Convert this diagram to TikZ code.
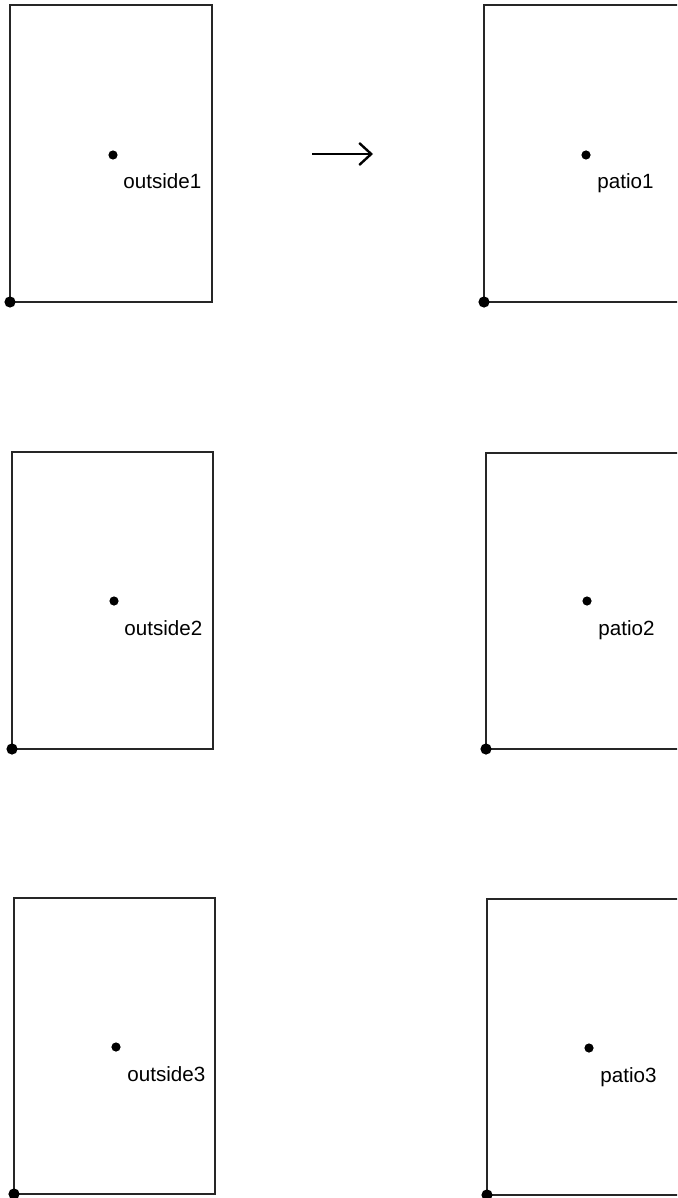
\documentclass[tikz,border=0pt]{standalone}
\usepackage{fontspec}
\setmainfont{Liberation Sans}
\usepackage{tikz}
\usetikzlibrary{arrows.meta, positioning}
\tikzset{
  room/.style={draw=black!85, line width=0.55pt},
  spot/.style={circle, fill=black, inner sep=0pt, minimum size=4.6pt},
  corner/.style={circle, fill=black, inner sep=0pt, minimum size=5.6pt},
  lbl/.style={font=\fontsize{10.3}{12}\selectfont, anchor=base west, inner sep=0pt}
}

\begin{document}
\begin{tikzpicture}[x=0.5pt, y=-0.5pt]
\useasboundingbox (0,0) rectangle (677,1198);
\clip (0,0) rectangle (677,1198);
% row 1
\draw[room] (10,5) rectangle (212,302);
\node[spot] (out1) at (113,155) {};
\node[lbl] (outlbl1) at ([shift={(10,34)}]out1) {outside1};
\node[corner] (outc1) at (10,302) {};
\draw[room] (484,5) rectangle (720,302);
\node[spot] (pat1) at (586,155) {};
\node[lbl] (patlbl1) at ([shift={(11,34)}]pat1) {patio1};
\node[corner] (patc1) at (484,302) {};
\coordinate (arrS) at (312,154);
\coordinate (arrE) at (373,154);
\draw[line width=1.2pt, -{Straight Barb[length=6pt, width=11pt, line width=1.2pt]}] (arrS) -- (arrE);
% row 2
\draw[room] (12,452) rectangle (213,749);
\node[spot] (out2) at (114,601) {};
\node[lbl] (outlbl2) at ([shift={(10,34)}]out2) {outside2};
\node[corner] (outc2) at (12,749) {};
\draw[room] (486,453) rectangle (720,749);
\node[spot] (pat2) at (587,601) {};
\node[lbl] (patlbl2) at ([shift={(11,34)}]pat2) {patio2};
\node[corner] (patc2) at (486,749) {};
% row 3
\draw[room] (14,898) rectangle (215,1194);
\node[spot] (out3) at (116,1047) {};
\node[lbl] (outlbl3) at ([shift={(11,34)}]out3) {outside3};
\node[corner] (outc3) at (14,1194) {};
\draw[room] (487,899) rectangle (720,1195);
\node[spot] (pat3) at (589,1048) {};
\node[lbl] (patlbl3) at ([shift={(11,34)}]pat3) {patio3};
\node[corner] (patc3) at (487,1195) {};
\end{tikzpicture}
\end{document}
